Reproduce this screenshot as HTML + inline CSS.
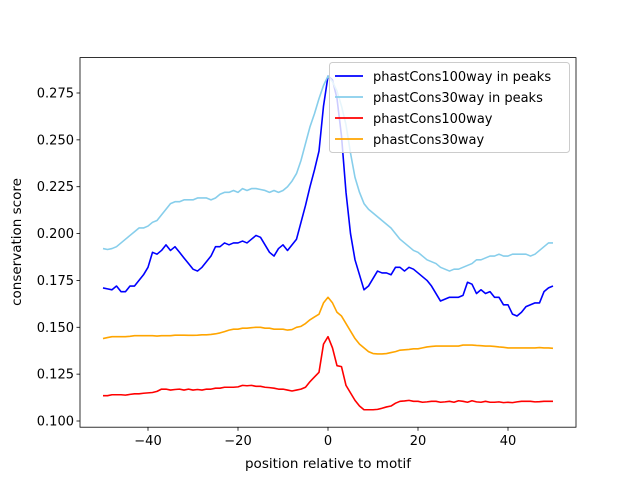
<!DOCTYPE html>
<html><head><meta charset="utf-8"><style>
body{margin:0;background:#fff;}
svg text{font-family:"DejaVu Sans","Liberation Sans",sans-serif;fill:#000;}
</style></head><body>
<svg id="chart" width="640" height="480" xmlns="http://www.w3.org/2000/svg">
<rect width="640" height="480" fill="#fff"/>
<g id="plot"></g>
<g id="axes"></g>
<text x="328" y="468" font-size="13.5" text-anchor="middle">position relative to motif</text>
<text transform="translate(21,242) rotate(-90)" font-size="13.5" text-anchor="middle">conservation score</text>
<g>
<rect x="329.5" y="62.5" width="240" height="90" rx="3" fill="#fff" fill-opacity="0.8" stroke="#ccc"/>
<g><line x1="335" y1="76" x2="363" y2="76" stroke="#0000ff" stroke-width="1.8"/><text x="373" y="81" font-size="13">phastCons100way in peaks</text></g>
<g><line x1="335" y1="97" x2="363" y2="97" stroke="#87ceeb" stroke-width="1.8"/><text x="373" y="102" font-size="13">phastCons30way in peaks</text></g>
<g><line x1="335" y1="118" x2="363" y2="118" stroke="#ff0000" stroke-width="1.8"/><text x="373" y="123" font-size="13">phastCons100way</text></g>
<g><line x1="335" y1="139" x2="363" y2="139" stroke="#ffa500" stroke-width="1.8"/><text x="373" y="144" font-size="13">phastCons30way</text></g>
</g>
</svg>
<script>
const xTicks=[-40,-20,0,20,40];
const yTicks=[0.100,0.125,0.150,0.175,0.200,0.225,0.250,0.275];
const peaks100=[.171,.1705,.170,.172,.169,.169,.172,.172,.175,.178,.182,.190,.189,.191,.194,.191,.193,.190,.187,.184,.181,.180,.182,.185,.188,.193,.193,.195,.194,.195,.195,.196,.195,.197,.199,.198,.194,.190,.188,.192,.194,.191,.194,.197,.206,.215,.225,.234,.244,.268,.284,.282,.272,.252,.222,.200,.186,.178,.170,.172,.176,.180,.179,.179,.178,.182,.182,.180,.182,.181,.179,.177,.175,.172,.168,.164,.165,.166,.166,.166,.167,.174,.173,.168,.170,.168,.169,.166,.166,.162,.162,.157,.156,.158,.161,.162,.163,.163,.169,.171,.172];
const peaks30=[.192,.1915,.192,.193,.195,.197,.199,.201,.203,.203,.204,.206,.207,.210,.213,.216,.217,.217,.218,.218,.218,.219,.219,.219,.218,.219,.221,.222,.222,.223,.222,.224,.223,.224,.224,.2235,.223,.222,.223,.222,.223,.225,.228,.232,.239,.248,.257,.264,.272,.279,.284,.281,.276,.268,.258,.243,.230,.222,.216,.213,.211,.209,.207,.205,.203,.200,.197,.195,.193,.191,.190,.188,.186,.185,.184,.182,.181,.180,.181,.181,.182,.183,.184,.186,.186,.187,.188,.188,.189,.188,.188,.189,.189,.189,.189,.188,.189,.191,.193,.195,.195];
const all100=[.1135,.1135,.114,.114,.114,.1138,.1142,.1145,.1145,.1148,.115,.1152,.1158,.117,.117,.1165,.1168,.117,.1165,.117,.1165,.1168,.1165,.117,.117,.1175,.1175,.118,.118,.118,.1182,.119,.1188,.119,.1185,.1185,.118,.1178,.1175,.117,.117,.1165,.116,.1165,.117,.118,.121,.1235,.126,.141,.145,.139,.1295,.129,.119,.115,.111,.108,.106,.106,.106,.1062,.1068,.1075,.108,.1095,.1105,.1107,.111,.1105,.1105,.110,.1102,.1105,.1105,.110,.1102,.1105,.110,.1108,.1105,.110,.1108,.1102,.110,.1105,.110,.110,.1102,.1098,.110,.1098,.1102,.1105,.1105,.1105,.1102,.1103,.1105,.1105,.1105];
const all30=[.144,.1445,.145,.145,.145,.145,.1452,.1455,.1455,.1455,.1455,.1455,.1453,.1455,.1455,.1455,.1458,.1458,.1458,.1457,.1457,.1458,.146,.146,.1462,.1465,.147,.1477,.1485,.149,.149,.1495,.1495,.1498,.150,.150,.1495,.1495,.149,.149,.149,.1485,.1488,.150,.1505,.152,.154,.1555,.157,.163,.166,.163,.158,.156,.152,.148,.144,.141,.139,.137,.136,.1358,.1358,.136,.1365,.137,.1378,.138,.1382,.1385,.1385,.139,.1395,.1398,.140,.140,.140,.140,.140,.140,.1405,.1405,.1405,.1403,.1402,.140,.140,.1398,.1395,.1393,.139,.139,.139,.139,.139,.139,.139,.1392,.139,.139,.1388];
const positions=[];for(let i=-50;i<=50;i++)positions.push(i);
const L=80,R=576,T=57.6,B=427.2;
const sx=v=>328+4.5*v;
const sy=v=>421-(v-0.1)*1874.3;
const NS='http://www.w3.org/2000/svg';
const plot=document.getElementById('plot'),axes=document.getElementById('axes');
function mk(tag,attrs,parent){const e=document.createElementNS(NS,tag);for(const k in attrs)e.setAttribute(k,attrs[k]);parent.appendChild(e);return e;}
const series=[[peaks100,'#0000ff','line-phastcons100way-peaks'],[peaks30,'#87ceeb','line-phastcons30way-peaks'],[all100,'#ff0000','line-phastcons100way'],[all30,'#ffa500','line-phastcons30way']];
series.forEach(s=>{
 const d=s[0].map((v,i)=>(i?'L':'M')+sx(positions[i]).toFixed(2)+','+sy(v).toFixed(2)).join('');
 const p=mk('path',{d:d,fill:'none',stroke:s[1],'stroke-width':1.6,'stroke-linejoin':'round'},plot);
 
 
});
const frame=mk('rect',{x:L,y:T,width:R-L,height:B-T,fill:'none',stroke:'#000','stroke-width':0.8},axes);


xTicks.forEach(t=>{
 const x=sx(t);
 mk('line',{x1:x,y1:B,x2:x,y2:B+3.5,stroke:'#000','stroke-width':0.8},axes);
 const tx=mk('text',{x:x,y:B+18,'font-size':13,'text-anchor':'middle'},axes);
 tx.textContent=(t<0?'\u2212'+(-t):t);
 
 
});
yTicks.forEach(t=>{
 const y=sy(t);
 mk('line',{x1:L-3.5,y1:y,x2:L,y2:y,stroke:'#000','stroke-width':0.8},axes);
 const tx=mk('text',{x:L-6,y:y+4.5,'font-size':13,'text-anchor':'end'},axes);
 tx.textContent=t.toFixed(3);
 
 
});
</script>
</body></html>
